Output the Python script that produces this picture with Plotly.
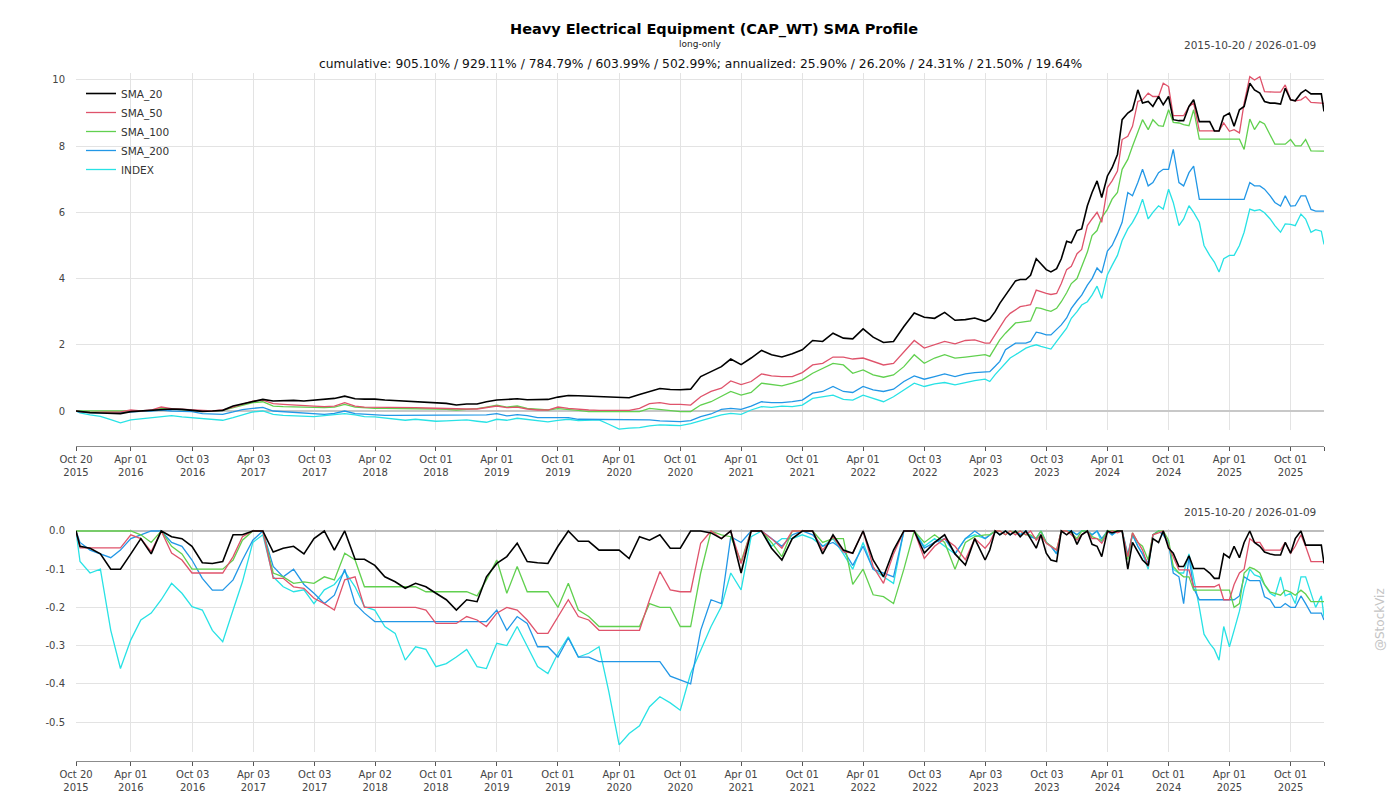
import pandas as pd
import plotly.graph_objects as go

# ---------------------------------------------------------------------- #
#                     values                #
# ---------------------------------------------------------------------- #

# monthly samples up to Apr 2023, twice a month afterwards
dates = (["2015-10-20"]
         + [d.strftime("%Y-%m-%d") for d in pd.date_range("2015-11-01", "2023-04-01", freq="MS")]
         + [d.strftime("%Y-%m-%d") for d in pd.date_range("2023-04-15", "2026-01-01", freq="SMS")]
         + ["2026-01-09"])

names = ["SMA_20", "SMA_50", "SMA_100", "SMA_200", "INDEX"]
colors = ["#000000", "#DF536B", "#61D04F", "#2297E6", "#28E2E5"]

# cumulative returns
cum_sma20 = [0, -0.02, -0.05, -0.06, -0.08, -0.08, -0.02, 0.0, 0.02, 0.05,
             0.06, 0.05, 0.03, -0.01, 0.0, 0.02, 0.15, 0.22, 0.28, 0.35,
             0.30, 0.31, 0.32, 0.30, 0.33, 0.34, 0.38, 0.45, 0.37, 0.36,
             0.36, 0.33, 0.31, 0.30, 0.28, 0.27, 0.25, 0.23, 0.18, 0.21,
             0.21, 0.28, 0.33, 0.35, 0.37, 0.34, 0.34, 0.35, 0.42, 0.47,
             0.46, 0.45, 0.43, 0.42, 0.40, 0.40, 0.50, 0.60, 0.68, 0.65,
             0.64, 0.66, 1.04, 1.19, 1.34, 1.57, 1.40, 1.60, 1.83, 1.70,
             1.63, 1.73, 1.85, 2.13, 2.10, 2.35, 2.20, 2.18, 2.48, 2.23,
             2.07, 2.10, 2.55, 2.96, 2.83, 2.80, 2.98, 2.74, 2.76, 2.81,
             2.71, 2.78, 3.00, 3.25, 3.50, 3.70, 3.93, 3.97, 3.97, 4.10,
             4.60, 4.45, 4.27, 4.20, 4.30, 4.60, 5.13, 5.08, 5.45, 5.50,
             6.20, 6.60, 6.95, 6.45, 7.10, 7.35, 7.75, 8.80, 9.00, 9.10,
             9.70, 9.30, 9.35, 9.20, 9.50, 9.25, 9.50, 8.80, 8.77, 8.77,
             9.20, 9.40, 8.74, 8.74, 8.74, 8.46, 8.46, 8.90, 9.00, 8.60,
             9.10, 9.20, 9.90, 9.70, 9.60, 9.35, 9.30, 9.30, 9.27, 9.75,
             9.40, 9.37, 9.60, 9.70, 9.58, 9.58, 9.58, 9.05]
cum_sma50 = [0, -0.02, -0.04, -0.04, -0.05, -0.03, 0.03, 0.0, 0.03, 0.12,
             0.07, 0.05, 0.02, 0.01, 0.0, 0.03, 0.12, 0.22, 0.30, 0.33,
             0.22, 0.20, 0.19, 0.18, 0.15, 0.13, 0.15, 0.25, 0.15, 0.12,
             0.12, 0.11, 0.10, 0.10, 0.10, 0.09, 0.08, 0.07, 0.05, 0.06,
             0.06, 0.10, 0.15, 0.10, 0.12, 0.06, 0.03, 0.03, 0.12, 0.08,
             0.05, 0.03, 0.02, 0.02, 0.02, 0.02, 0.08, 0.22, 0.25, 0.20,
             0.20, 0.18, 0.43, 0.59, 0.69, 0.91, 0.80, 0.89, 1.12, 1.06,
             1.04, 1.04, 1.16, 1.39, 1.44, 1.63, 1.63, 1.57, 1.60, 1.50,
             1.39, 1.44, 1.80, 2.13, 1.90, 2.00, 2.10, 2.03, 2.13, 2.15,
             2.05, 2.05, 2.30, 2.55, 2.80, 2.95, 3.05, 3.15, 3.18, 3.21,
             3.65, 3.60, 3.55, 3.52, 3.55, 3.85, 4.27, 4.37, 4.75, 4.88,
             5.60, 5.80, 6.00, 5.70, 6.75, 6.95, 7.25, 8.20, 8.30, 8.60,
             9.35, 9.40, 9.60, 9.50, 9.50, 9.90, 9.80, 8.92, 8.92, 8.92,
             9.20, 9.30, 8.46, 8.46, 8.46, 8.46, 8.46, 8.70, 8.45, 8.50,
             8.40, 9.30, 10.10, 10.00, 10.10, 9.65, 9.63, 9.63, 9.63, 9.85,
             9.40, 9.37, 9.40, 9.50, 9.32, 9.32, 9.30, 9.29]
cum_sma100 = [0, 0.0, -0.01, -0.01, -0.02, -0.01, 0.0, 0.01, 0.02, 0.08,
              0.07, 0.04, 0.02, 0.0, 0.0, 0.02, 0.10, 0.18, 0.25, 0.28,
              0.15, 0.13, 0.12, 0.12, 0.10, 0.10, 0.12, 0.20, 0.12, 0.10,
              0.08, 0.08, 0.08, 0.07, 0.07, 0.07, 0.06, 0.05, 0.03, 0.05,
              0.07, 0.12, 0.18, 0.12, 0.15, 0.08, 0.05, 0.03, 0.07, 0.05,
              0.02, -0.02, -0.02, -0.02, -0.02, -0.02, -0.02, 0.08, 0.05, 0.02,
              -0.02, -0.02, 0.18, 0.28, 0.43, 0.59, 0.48, 0.56, 0.84, 0.79,
              0.76, 0.84, 0.94, 1.14, 1.29, 1.44, 1.39, 1.14, 1.24, 1.09,
              1.02, 1.09, 1.34, 1.70, 1.44, 1.60, 1.70, 1.60, 1.63, 1.67,
              1.70, 1.65, 1.90, 2.15, 2.35, 2.50, 2.66, 2.68, 2.70, 2.72,
              3.12, 3.10, 3.05, 3.01, 3.10, 3.30, 3.57, 3.85, 4.00, 4.35,
              4.80, 5.30, 5.45, 5.84, 6.09, 6.40, 6.60, 7.30, 7.60, 8.00,
              8.40, 8.80, 8.50, 8.80, 8.62, 8.60, 9.10, 8.72, 8.70, 8.65,
              8.62, 9.10, 8.21, 8.21, 8.21, 8.21, 8.21, 8.21, 8.21, 8.21,
              8.21, 7.90, 8.82, 8.50, 8.75, 8.67, 8.31, 8.06, 8.06, 8.06,
              8.20, 8.01, 8.01, 8.20, 7.86, 7.85, 7.85, 7.85]
cum_sma200 = [0, -0.03, -0.05, -0.06, -0.07, -0.05, -0.02, -0.01, 0.0, 0.03,
              0.0, 0.0, -0.02, -0.08, -0.10, -0.10, -0.03, 0.04, 0.08, 0.11,
              0.0, -0.02, -0.02, -0.05, -0.08, -0.10, -0.07, 0.0, -0.08, -0.10,
              -0.12, -0.13, -0.13, -0.13, -0.13, -0.13, -0.13, -0.13, -0.13, -0.13,
              -0.13, -0.12, -0.08, -0.15, -0.11, -0.14, -0.20, -0.20, -0.18, -0.20,
              -0.25, -0.25, -0.27, -0.27, -0.27, -0.27, -0.27, -0.27, -0.30, -0.31,
              -0.32, -0.29, -0.17, -0.09, 0.05, 0.08, 0.05, 0.15, 0.28, 0.25,
              0.25, 0.28, 0.33, 0.54, 0.59, 0.74, 0.59, 0.56, 0.74, 0.64,
              0.59, 0.66, 0.89, 1.06, 0.96, 1.04, 1.12, 1.04, 1.12, 1.16,
              1.19, 1.19, 1.35, 1.50, 1.85, 1.95, 2.05, 2.05, 2.05, 2.10,
              2.38, 2.35, 2.30, 2.30, 2.45, 2.60, 2.81, 3.10, 3.33, 3.50,
              3.80, 4.00, 4.32, 4.17, 4.83, 5.00, 5.35, 5.70, 6.60, 6.50,
              6.90, 7.30, 6.80, 6.90, 7.20, 7.30, 7.30, 7.90, 6.90, 6.80,
              7.20, 7.40, 6.39, 6.39, 6.39, 6.39, 6.39, 6.39, 6.39, 6.39,
              6.39, 6.39, 6.90, 6.80, 6.80, 6.70, 6.50, 6.30, 6.19, 6.50,
              6.19, 6.20, 6.50, 6.50, 6.09, 6.04, 6.04, 6.04]
cum_index = [0, -0.06, -0.12, -0.16, -0.26, -0.36, -0.27, -0.24, -0.22, -0.17,
             -0.14, -0.18, -0.21, -0.22, -0.27, -0.28, -0.20, -0.12, -0.03, 0.0,
             -0.10, -0.13, -0.14, -0.14, -0.17, -0.14, -0.12, -0.08, -0.12, -0.17,
             -0.18, -0.22, -0.26, -0.28, -0.25, -0.27, -0.31, -0.30, -0.29, -0.27,
             -0.31, -0.34, -0.25, -0.28, -0.22, -0.26, -0.31, -0.33, -0.28, -0.25,
             -0.29, -0.28, -0.27, -0.40, -0.55, -0.52, -0.50, -0.45, -0.42, -0.43,
             -0.44, -0.38, -0.30, -0.22, -0.12, -0.07, -0.10, 0.03, 0.13, 0.11,
             0.15, 0.13, 0.18, 0.38, 0.43, 0.48, 0.35, 0.33, 0.48, 0.38,
             0.28, 0.43, 0.64, 0.84, 0.74, 0.82, 0.86, 0.79, 0.86, 0.92,
             0.96, 0.89, 1.10, 1.25, 1.45, 1.60, 1.70, 1.80, 1.90, 1.95,
             2.00, 1.95, 1.90, 1.87, 2.10, 2.30, 2.50, 2.80, 3.00, 3.20,
             3.30, 3.50, 3.77, 3.40, 4.12, 4.40, 4.70, 5.15, 5.50, 5.70,
             6.00, 6.40, 5.80, 6.00, 6.20, 6.10, 6.70, 6.30, 5.60, 5.80,
             6.20, 6.00, 5.70, 5.00, 4.70, 4.50, 4.20, 4.60, 4.70, 4.70,
             5.00, 5.40, 6.10, 6.05, 6.08, 5.99, 5.80, 5.60, 5.40, 5.65,
             5.64, 5.60, 5.95, 5.80, 5.40, 5.48, 5.43, 5.03]

# drawdowns
dd_sma20 = [0, -0.04, -0.045, -0.06, -0.10, -0.10, -0.06, -0.02, -0.06, 0.0,
            -0.015, -0.02, -0.04, -0.083, -0.085, -0.08, -0.01, -0.01, 0.0, 0.0,
            -0.055, -0.045, -0.04, -0.06, -0.02, 0.0, -0.05, 0.0, -0.074, -0.074,
            -0.09, -0.12, -0.133, -0.15, -0.137, -0.146, -0.163, -0.18, -0.207, -0.18,
            -0.185, -0.12, -0.085, -0.067, -0.032, -0.08, -0.083, -0.085, -0.04, 0.0,
            -0.027, -0.027, -0.05, -0.05, -0.05, -0.072, -0.015, -0.024, -0.01, -0.045,
            -0.045, 0.0, 0.0, -0.005, -0.02, 0.0, -0.11, 0.0, 0.0, -0.045,
            -0.076, -0.02, 0.0, 0.0, -0.06, -0.01, -0.05, -0.058, 0.0, -0.076,
            -0.12, -0.05, 0.0, 0.0, -0.058, -0.03, -0.01, -0.06, -0.089, -0.02,
            -0.076, -0.05, 0.0, -0.01, 0.0, -0.01, 0.0, -0.015, 0.0, -0.02,
            -0.045, -0.01, -0.058, -0.076, -0.08, 0.0, -0.01, 0.0, -0.035, -0.01,
            0.0, -0.035, -0.04, -0.067, 0.0, -0.005, 0.0, 0.0, -0.10, -0.03,
            -0.055, -0.076, -0.09, -0.02, -0.03, 0.0, -0.045, -0.058, -0.093, -0.093,
            -0.065, -0.098, -0.098, -0.098, -0.11, -0.124, -0.124, -0.06, -0.07, -0.04,
            -0.07, -0.03, 0.0, -0.03, -0.04, -0.055, -0.06, -0.063, -0.063, -0.03,
            -0.058, -0.02, 0.0, -0.037, -0.037, -0.037, -0.037, -0.085]
dd_sma50 = [0, -0.044, -0.044, -0.044, -0.044, -0.044, -0.01, -0.02, -0.054, 0.0,
            -0.058, -0.076, -0.11, -0.11, -0.11, -0.11, -0.067, -0.015, 0.0, 0.0,
            -0.124, -0.124, -0.146, -0.15, -0.176, -0.19, -0.207, -0.128, -0.12, -0.20,
            -0.20, -0.20, -0.20, -0.20, -0.20, -0.207, -0.242, -0.242, -0.242, -0.224,
            -0.233, -0.25, -0.215, -0.20, -0.207, -0.233, -0.268, -0.268, -0.224, -0.18,
            -0.224, -0.233, -0.26, -0.26, -0.26, -0.26, -0.26, -0.18, -0.106, -0.154,
            -0.159, -0.159, -0.032, 0.0, -0.02, 0.0, -0.085, 0.0, 0.0, -0.02,
            -0.045, 0.0, 0.0, 0.0, -0.05, -0.015, -0.055, -0.058, 0.0, -0.093,
            -0.137, -0.06, 0.0, 0.0, -0.072, -0.04, -0.02, -0.04, -0.075, -0.02,
            -0.045, -0.03, 0.0, 0.0, -0.01, 0.0, -0.01, 0.0, -0.01, 0.0,
            -0.024, -0.01, -0.032, -0.04, -0.05, 0.0, 0.0, -0.01, -0.024, -0.01,
            0.0, -0.02, -0.02, -0.032, -0.005, 0.0, -0.005, 0.0, -0.067, -0.005,
            -0.03, -0.05, -0.093, -0.01, -0.005, 0.0, -0.04, -0.07, -0.102, -0.102,
            -0.102, -0.146, -0.146, -0.146, -0.146, -0.146, -0.14, -0.18, -0.18, -0.14,
            -0.11, -0.10, -0.02, -0.03, -0.03, -0.05, -0.05, -0.05, -0.05, -0.03,
            -0.058, -0.04, -0.01, -0.04, -0.08, -0.08, -0.08, -0.08]
dd_sma100 = [0, 0.0, 0.0, 0.0, 0.0, 0.0, 0.0, -0.01, -0.03, 0.0,
             -0.04, -0.06, -0.10, -0.10, -0.10, -0.10, -0.076, -0.024, 0.0, 0.0,
             -0.11, -0.12, -0.137, -0.133, -0.137, -0.12, -0.128, -0.058, -0.076, -0.146,
             -0.146, -0.146, -0.146, -0.146, -0.146, -0.159, -0.159, -0.159, -0.159, -0.159,
             -0.17, -0.128, -0.076, -0.163, -0.093, -0.159, -0.159, -0.159, -0.20, -0.137,
             -0.207, -0.224, -0.25, -0.25, -0.25, -0.25, -0.25, -0.19, -0.20, -0.20,
             -0.25, -0.25, -0.11, 0.0, -0.01, -0.015, -0.08, 0.0, 0.0, -0.03,
             -0.067, 0.0, 0.0, 0.0, -0.03, -0.02, -0.02, -0.14, -0.10, -0.167,
             -0.172, -0.19, -0.10, 0.0, -0.03, -0.01, -0.03, -0.10, -0.03, -0.015,
             -0.01, -0.01, 0.0, 0.0, -0.01, 0.0, -0.005, 0.0, -0.01, -0.01,
             -0.02, 0.0, -0.03, -0.04, -0.05, 0.0, 0.0, -0.005, -0.02, 0.0,
             0.0, -0.015, -0.02, -0.025, 0.0, 0.0, 0.0, 0.0, -0.075, -0.005,
             -0.03, -0.04, -0.076, -0.01, 0.0, 0.0, -0.024, -0.093, -0.11, -0.12,
             -0.12, -0.155, -0.155, -0.155, -0.155, -0.155, -0.155, -0.155, -0.155, -0.20,
             -0.19, -0.11, -0.095, -0.10, -0.11, -0.14, -0.16, -0.163, -0.168, -0.155,
             -0.16, -0.168, -0.155, -0.165, -0.185, -0.185, -0.185, -0.185]
dd_sma200 = [0, -0.03, -0.05, -0.06, -0.07, -0.05, -0.02, -0.01, 0.0, 0.0,
             -0.03, -0.04, -0.076, -0.124, -0.155, -0.155, -0.128, -0.076, -0.024, 0.0,
             -0.093, -0.12, -0.10, -0.14, -0.163, -0.19, -0.168, -0.10, -0.19, -0.215,
             -0.237, -0.237, -0.237, -0.237, -0.237, -0.237, -0.237, -0.237, -0.237, -0.237,
             -0.237, -0.237, -0.207, -0.26, -0.224, -0.242, -0.303, -0.303, -0.33, -0.28,
             -0.33, -0.33, -0.342, -0.342, -0.342, -0.342, -0.342, -0.342, -0.342, -0.38,
             -0.39, -0.40, -0.26, -0.18, -0.19, -0.015, -0.03, 0.0, 0.0, -0.02,
             -0.04, -0.01, 0.0, -0.01, -0.04, -0.03, -0.05, -0.09, -0.04, -0.10,
             -0.11, -0.12, 0.0, 0.0, -0.045, -0.03, -0.02, -0.06, -0.02, 0.0,
             -0.02, -0.01, 0.0, -0.01, 0.0, -0.01, 0.0, -0.01, 0.0, -0.015,
             -0.02, 0.0, -0.03, -0.04, -0.06, 0.0, 0.0, 0.0, -0.01, 0.0,
             0.0, -0.01, 0.0, -0.02, 0.0, -0.01, 0.0, 0.0, -0.067, -0.01,
             -0.04, -0.06, -0.085, -0.01, 0.0, -0.01, -0.03, -0.11, -0.12, -0.19,
             -0.067, -0.15, -0.18, -0.18, -0.18, -0.18, -0.18, -0.18, -0.18, -0.18,
             -0.17, -0.12, -0.13, -0.13, -0.13, -0.172, -0.18, -0.20, -0.20, -0.19,
             -0.20, -0.20, -0.17, -0.19, -0.215, -0.215, -0.215, -0.233]
dd_index = [0, -0.08, -0.11, -0.10, -0.26, -0.36, -0.285, -0.233, -0.215, -0.18,
            -0.137, -0.163, -0.198, -0.207, -0.26, -0.29, -0.207, -0.133, -0.03, -0.01,
            -0.12, -0.146, -0.159, -0.154, -0.19, -0.154, -0.14, -0.106, -0.146, -0.198,
            -0.207, -0.25, -0.268, -0.338, -0.303, -0.31, -0.355, -0.347, -0.33, -0.31,
            -0.355, -0.36, -0.294, -0.30, -0.25, -0.303, -0.355, -0.373, -0.32, -0.277,
            -0.33, -0.32, -0.303, -0.42, -0.56, -0.53, -0.51, -0.46, -0.434, -0.45,
            -0.469, -0.373, -0.31, -0.25, -0.198, -0.11, -0.154, -0.015, 0.0, -0.04,
            -0.02, -0.02, -0.01, -0.02, -0.04, -0.02, -0.06, -0.10, -0.03, -0.10,
            -0.12, -0.137, 0.0, 0.0, -0.04, -0.02, -0.04, -0.06, -0.02, -0.01,
            -0.02, -0.01, 0.0, -0.01, 0.0, -0.01, 0.0, -0.01, 0.0, -0.015,
            -0.02, 0.0, -0.03, -0.04, -0.06, 0.0, 0.0, 0.0, -0.01, 0.0,
            0.0, -0.01, 0.0, -0.03, 0.0, -0.01, 0.0, 0.0, -0.06, -0.01,
            -0.04, -0.06, -0.10, -0.01, 0.0, -0.01, -0.03, -0.10, -0.11, -0.11,
            -0.06, -0.12, -0.20, -0.27, -0.294, -0.31, -0.338, -0.25, -0.303, -0.26,
            -0.21, -0.15, -0.10, -0.115, -0.12, -0.141, -0.163, -0.17, -0.12, -0.17,
            -0.163, -0.19, -0.12, -0.12, -0.16, -0.20, -0.17, -0.224]

cum_series = [cum_sma20, cum_sma50, cum_sma100, cum_sma200, cum_index]
dd_series = [dd_sma20, dd_sma50, dd_sma100, dd_sma200, dd_index]

tick_dates = ["2015-10-20", "2016-04-01", "2016-10-03", "2017-04-03", "2017-10-03",
              "2018-04-02", "2018-10-01", "2019-04-01", "2019-10-01", "2020-04-01",
              "2020-10-01", "2021-04-01", "2021-10-01", "2022-04-01", "2022-10-03",
              "2023-04-03", "2023-10-03", "2024-04-01", "2024-10-01", "2025-04-01",
              "2025-10-01", "2026-01-09"]
# the last tick (end of the series) carries no label
tick_text = [pd.Timestamp(d).strftime("%b %d<br>%Y") for d in tick_dates[:-1]] + [""]

cum_ticks = [0, 2, 4, 6, 8, 10]
dd_ticks = [0.0, -0.1, -0.2, -0.3, -0.4, -0.5]
dd_text = ["0.0", "-0.1", "-0.2", "-0.3", "-0.4", "-0.5"]

title = "Heavy Electrical Equipment (CAP_WT) SMA Profile"
subtitle = "long-only"
period = "2015-10-20 / 2026-01-09"
stats = ("cumulative: 905.10% / 929.11% / 784.79% / 603.99% / 502.99%; "
         "annualized: 25.90% / 26.20% / 24.31% / 21.50% / 19.64%")

# ---------------------------------------------------------------------- #
#                                  figure                                #
# ---------------------------------------------------------------------- #

# the page keeps the browser's 8px body margin, so the figure is 16px
# smaller than the window and everything is placed 8px up/left
W, H = 1384, 784
FONT = "DejaVu Sans"


def py(px):
    # window pixel row -> paper fraction
    return 1 - (px - 8) / H


fig = go.Figure()

# draw INDEX first so the SMA_20 line ends up on top
for i in reversed(range(len(names))):
    width = 1.6 if i == 0 else 1.3
    fig.add_trace(go.Scatter(x=dates, y=cum_series[i], name=names[i], mode="lines",
                             line=dict(color=colors[i], width=width),
                             legendrank=i + 1, xaxis="x", yaxis="y"))
    fig.add_trace(go.Scatter(x=dates, y=dd_series[i], name=names[i], mode="lines",
                             line=dict(color=colors[i], width=width),
                             showlegend=False, xaxis="x2", yaxis="y2"))

# x axes sit a little below the data area, like the original
x_common = dict(type="date", range=["2015-10-20", "2026-01-09"],
                tickvals=tick_dates, ticktext=tick_text,
                showgrid=True, gridcolor="#e3e3e3", gridwidth=1,
                showline=True, linecolor="#8c8c8c", linewidth=1.2,
                ticks="outside", ticklen=4, tickcolor="#555555", tickwidth=1.2,
                tickfont=dict(family=FONT, size=10, color="#444444"),
                zeroline=False, automargin=False, anchor="free")

y_common = dict(ticks="", ticklabelstandoff=10,
                tickfont=dict(family=FONT, size=10, color="#444444"),
                showgrid=True, gridcolor="#e3e3e3", gridwidth=1,
                showline=False, automargin=False)

fig.update_layout(
    width=W, height=H,
    paper_bgcolor="white", plot_bgcolor="white",
    margin=dict(l=68, r=68, t=0, b=0),
    font=dict(family=FONT, color="#333333"),
    showlegend=True,
    legend=dict(x=0.004, y=py(79), xanchor="left", yanchor="top",
                bgcolor="rgba(0,0,0,0)", font=dict(family=FONT, size=10.5, color="#333333"),
                itemwidth=30, tracegroupgap=0),
    xaxis=dict(x_common, domain=[0, 1], position=py(446)),
    xaxis2=dict(x_common, domain=[0, 1], position=py(761)),
    yaxis=dict(y_common, domain=[py(430), py(73)], range=[-0.574, 10.21],
               tickvals=cum_ticks,
               zeroline=True, zerolinecolor="#c8c8c8", zerolinewidth=2),
    yaxis2=dict(y_common, domain=[py(752), py(529)], range=[-0.5785, 0.0052],
                tickvals=dd_ticks, ticktext=dd_text,
                zeroline=True, zerolinecolor="#bdbdbd", zerolinewidth=1.5),
)

ann = dict(xref="paper", yref="paper", showarrow=False)
fig.add_annotation(ann, x=0.511, y=py(29), text="<b>" + title + "</b>",
                   font=dict(family=FONT, size=14.5, color="#000000"),
                   xanchor="center", yanchor="middle")
fig.add_annotation(ann, x=0.5, y=py(44), text=subtitle,
                   font=dict(family=FONT, size=9, color="#222222"),
                   xanchor="center", yanchor="middle")
fig.add_annotation(ann, x=0.5, y=py(64), text=stats,
                   font=dict(family=FONT, size=12.3, color="#111111"),
                   xanchor="center", yanchor="middle")
fig.add_annotation(ann, x=0.9952, y=py(45), text=period,
                   font=dict(family=FONT, size=10.5, color="#444444"),
                   xanchor="right", yanchor="middle")
fig.add_annotation(ann, x=0.9952, y=py(512), text=period,
                   font=dict(family=FONT, size=10.5, color="#444444"),
                   xanchor="right", yanchor="middle")
fig.add_annotation(ann, x=1.0449, y=py(620), text="@StockViz", textangle=-90,
                   font=dict(family=FONT, size=12, color="#c4c4c4"),
                   xanchor="center", yanchor="middle")

fig.write_html("out.html")
